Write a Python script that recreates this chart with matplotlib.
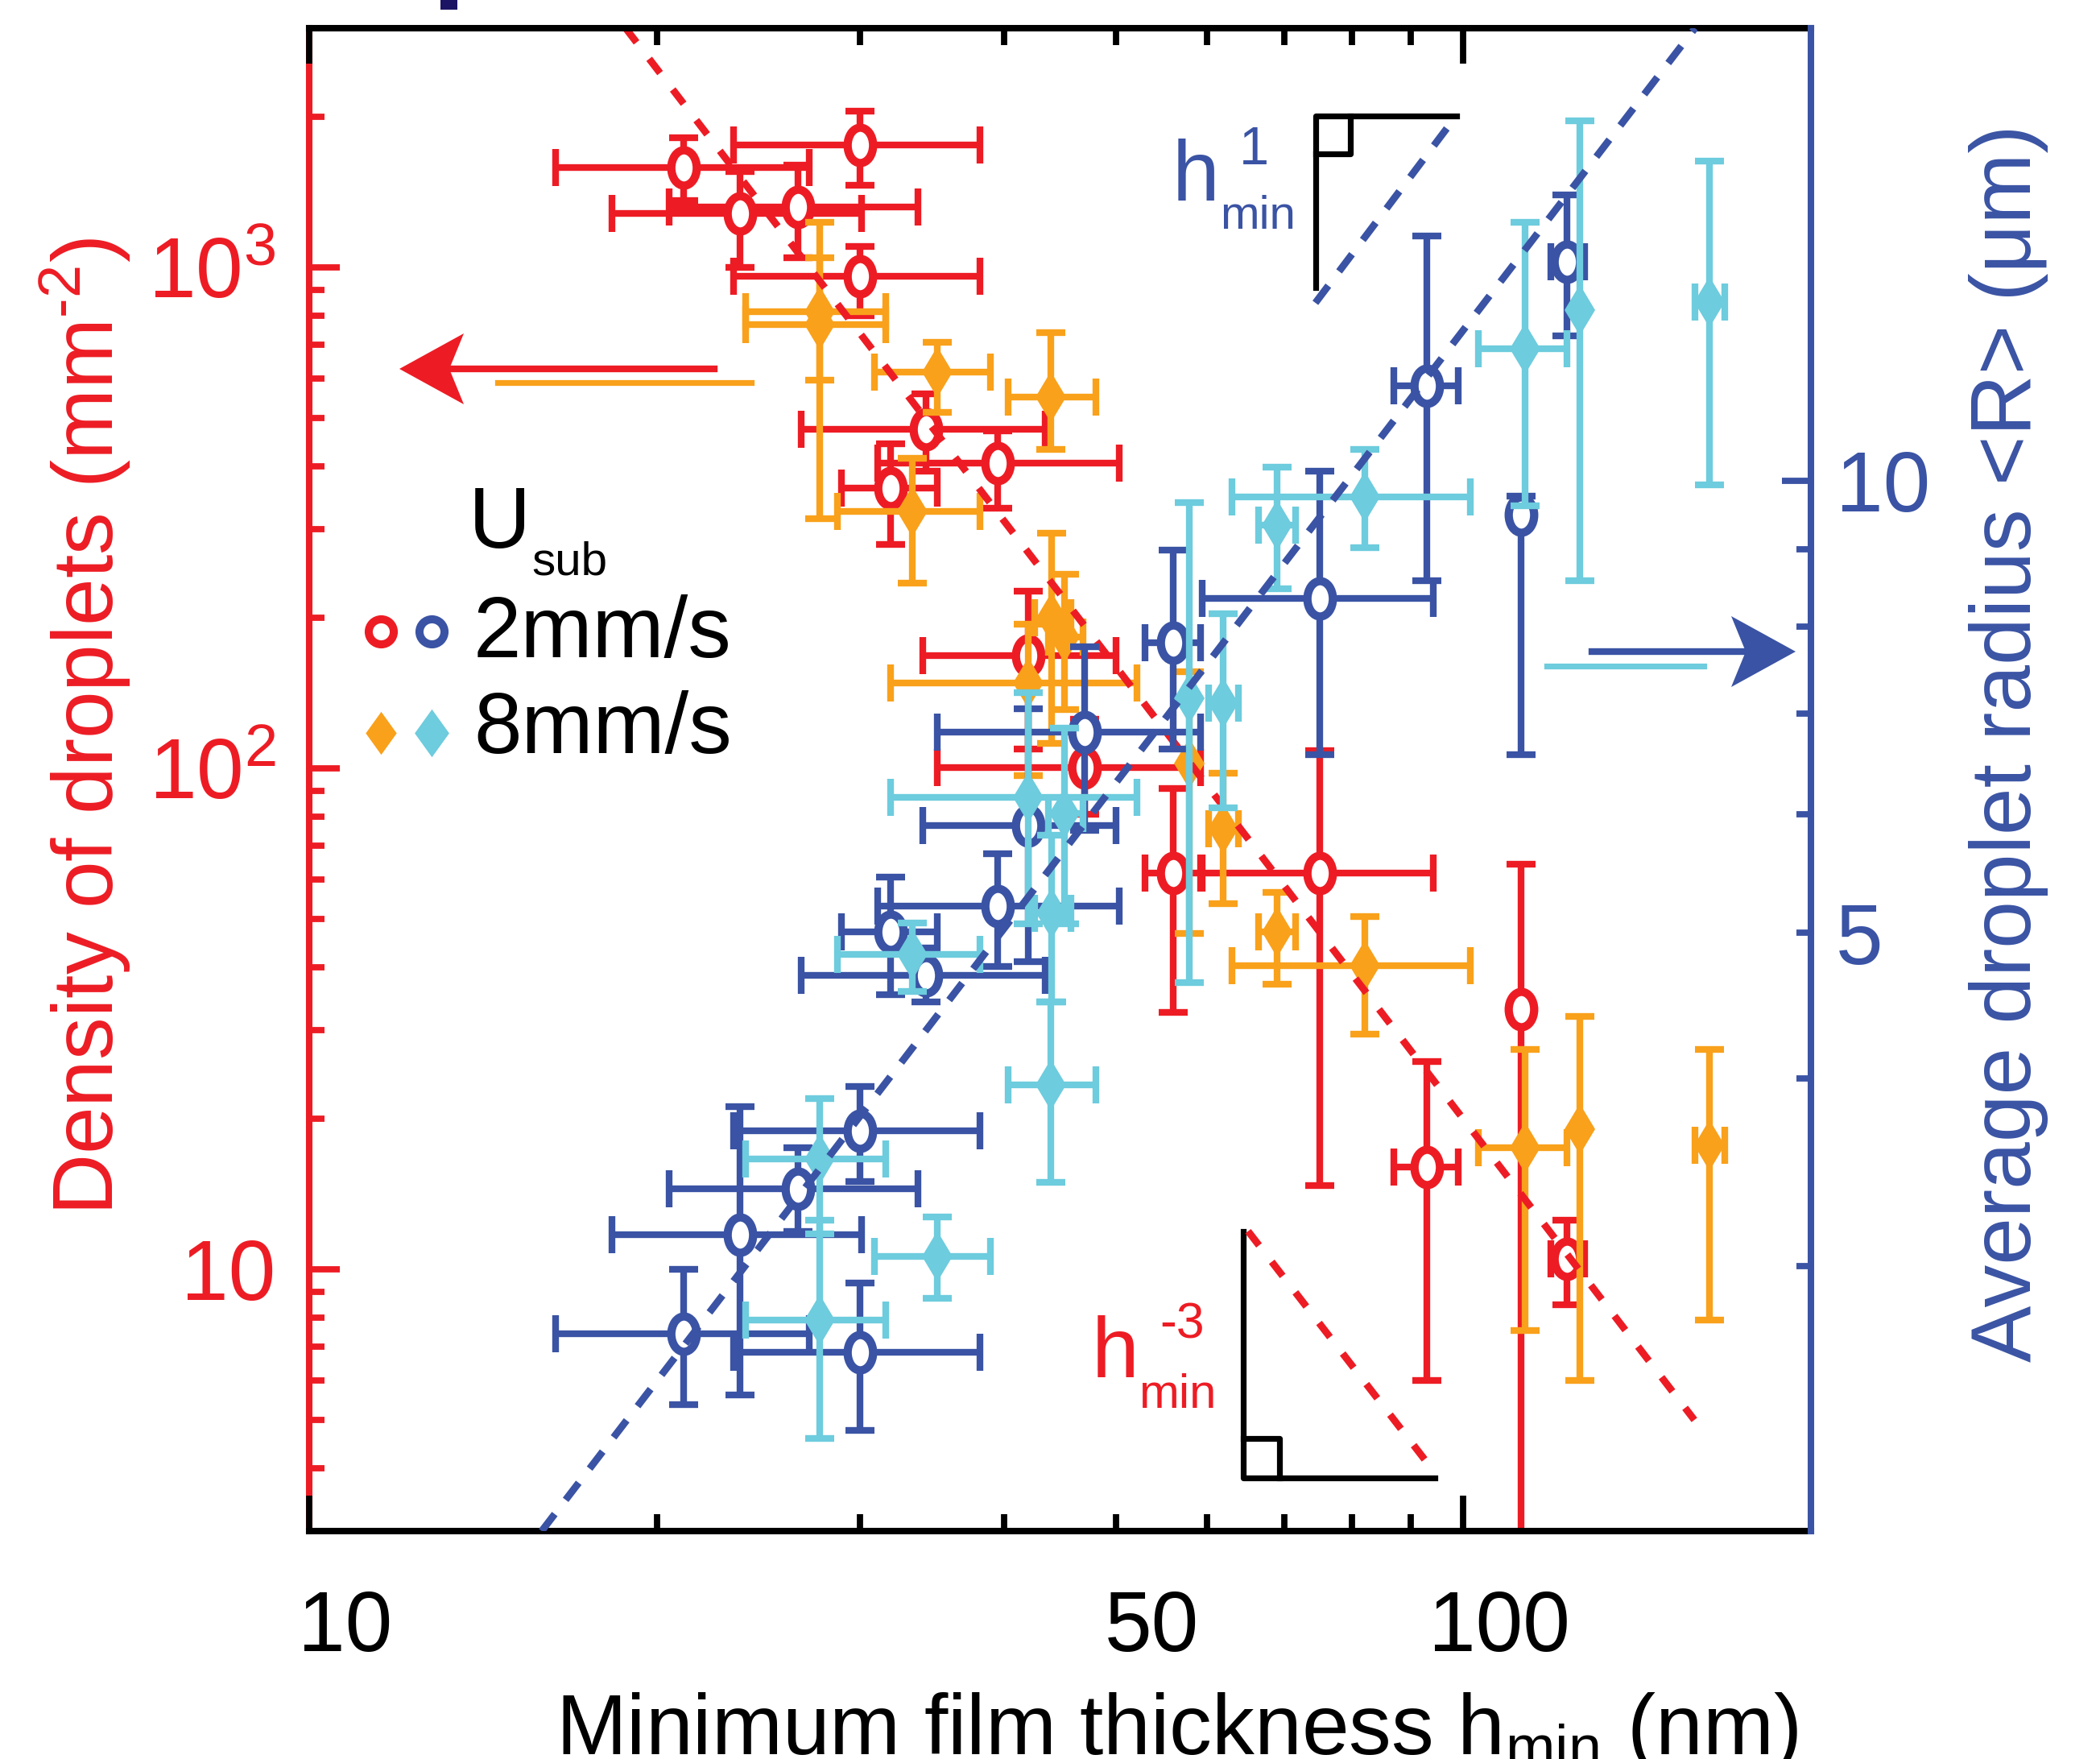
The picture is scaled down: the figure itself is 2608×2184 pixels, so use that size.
import numpy as np
import matplotlib.pyplot as plt
from matplotlib.path import Path
from matplotlib.transforms import Affine2D, ScaledTranslation
from matplotlib.ticker import FixedLocator, FixedFormatter, NullFormatter
from matplotlib.lines import Line2D
from matplotlib.patches import Polygon, Rectangle

plt.rcParams['font.family'] = ['Liberation Sans', 'DejaVu Sans']
plt.rcParams['mathtext.fontset'] = 'custom'
plt.rcParams['mathtext.rm'] = 'Liberation Sans'
plt.rcParams['mathtext.it'] = 'Liberation Sans:italic'
plt.rcParams['mathtext.default'] = 'regular'

RED = '#ED1C24'
ORANGE = '#F9A11B'
BLUE = '#3A53A4'
CYAN = '#6DCCDD'

# ---- U_sub = 2 mm/s (red: density, blue: radius), same h_min for both ----
h2 = [21.1, 30.0, 23.6, 26.5, 30.0, 34.2, 39.5, 31.9, 42.0, 47.0, 56.0, 75.1, 112.1, 93.0, 123.0]
h2_lo = [16.35, 23.3, 18.3, 20.5, 23.3, 26.7, 31.1, 28.9, 34.0, 35.0, 53.0, 59.4, 112.1, 87.0, 119.0]
h2_hi = [27.1, 38.1, 30.1, 33.7, 38.1, 43.4, 50.3, 35.0, 50.0, 59.2, 59.2, 94.2, 112.1, 99.0, 127.3]
dens2 = [1581, 1754, 1281, 1319, 960, 474, 406, 362, 168, 100.4, 61.8, 61.8, 33.0, 16.0, 10.5]
dens2_lo = [1359, 1458, 1000, 1045, 801, 391, 330, 280, 109, 81.0, 32.6, 14.7, 1.0, 6.0, 8.5]
dens2_hi = [1813, 2048, 1552, 1599, 1101, 558, 471, 444, 226, 125, 91.2, 108.5, 64.2, 26.0, 12.5]
rad2 = [2.705, 2.629, 3.150, 3.380, 3.694, 4.684, 5.208, 5.012, 5.896, 6.801, 7.798, 8.346, 9.495, 11.57, 13.98]
rad2_lo = [2.427, 2.333, 2.463, 3.166, 3.418, 4.497, 4.748, 4.548, 4.783, 5.853, 6.628, 6.570, 6.570, 8.574, 12.48]
rad2_hi = [2.987, 2.923, 3.831, 3.598, 3.953, 4.885, 5.648, 5.450, 7.048, 7.750, 8.985, 10.15, 9.77, 14.55, 15.50]

# ---- U_sub = 8 mm/s (orange: density, cyan: radius) ----
h8 = [27.7, 27.7, 35.0, 33.3, 43.9, 44.0, 45.1, 42.0, 57.9, 61.9, 69.0, 82.1, 113.0, 126.2, 163.3]
h8_lo = [23.9, 23.9, 30.9, 28.7, 40.3, 42.5, 43.7, 31.9, 57.9, 60.1, 66.5, 63.0, 103.1, 126.2, 158.6]
h8_hi = [31.6, 31.6, 38.9, 38.1, 48.0, 45.7, 46.8, 52.1, 57.9, 63.8, 71.5, 101.3, 123.0, 126.2, 168.4]
dens8 = [816, 769, 618, 325, 551, 200, 183, 148, 102, 75.8, 47.1, 40.3, 17.5, 19.0, 17.7]
dens8_lo = [594, 315, 514, 234, 432, 112, 131, 96.7, 46.7, 53.7, 37.1, 29.5, 7.55, 6.0, 7.9]
dens8_hi = [1230, 1045, 709, 415, 741, 294, 244, 194, 156, 97.8, 56.6, 50.5, 27.5, 32.0, 27.4]
rad8 = [3.538, 2.762, 3.048, 4.836, 3.963, 5.156, 6.006, 6.156, 7.164, 7.11, 9.346, 9.757, 12.24, 12.98, 13.14]
rad8_lo = [3.154, 2.305, 2.858, 4.570, 3.414, 4.497, 5.074, 5.074, 4.637, 6.059, 8.478, 9.018, 9.625, 8.574, 9.93]
rad8_hi = [3.880, 3.221, 3.237, 5.08, 4.497, 5.810, 6.844, 7.225, 9.674, 8.153, 10.21, 10.49, 14.86, 17.36, 16.32]

# guide lines (end points): density ~ h^-3, radius ~ h^1
red_fit_x = [18.8, 158.5]
red_fit_y = [3000, 5.0]
blue_fit_x = [15.9, 158.7]
blue_fit_y = [2.0, 20.0]

RED_DASH = (0, (2.5, 2.9))
BLUE_DASH = (0, (3.0, 2.5))
FIT_LW = 3.2

W, H = 2608, 2184
fig = plt.figure(figsize=(W / 200, H / 200), dpi=200)
fig.patch.set_facecolor('white')


def fx(X):
    return X / W


def fy(Y):
    return 1 - Y / H


ax = fig.add_axes([fx(384), fy(1901), fx(2249) - fx(384), fy(35) - fy(1901)])
ax2 = ax.twinx()
ax.set_xscale('log')
ax.set_yscale('log')
ax2.set_yscale('log')
ax.set_xlim(10, 200)
ax.set_ylim(3, 3000)
ax2.set_ylim(2, 20)

ellipse = Affine2D().scale(0.72, 1.0).transform_path(Path.unit_circle())


def errs(v, lo, hi):
    v, lo, hi = np.array(v, float), np.array(lo, float), np.array(hi, float)
    e = np.array([v - lo, hi - v])
    e[:, (hi - lo) == 0] = np.nan
    return e


def draw(axis, x, xlo, xhi, y, ylo, yhi, color, marker, ms, mew, mfc):
    axis.errorbar(x, y, xerr=errs(x, xlo, xhi), fmt='none', ecolor=color,
                  elinewidth=3.0, capsize=8.3, capthick=3.0)
    axis.errorbar(x, y, yerr=errs(y, ylo, yhi), fmt='none', ecolor=color,
                  elinewidth=3.0, capsize=6.5, capthick=3.0)
    axis.plot(x, y, ls='none', marker=marker, ms=ms, mec=color, mfc=mfc, mew=mew)


draw(ax, h2, h2_lo, h2_hi, dens2, dens2_lo, dens2_hi, RED, ellipse, 15.8, 3.7, 'white')
draw(ax, h8, h8_lo, h8_hi, dens8, dens8_lo, dens8_hi, ORANGE, 'd', 15.2, 0.6, ORANGE)
ax.plot(red_fit_x, red_fit_y, color=RED, lw=FIT_LW, ls=RED_DASH)

draw(ax2, h2, h2_lo, h2_hi, rad2, rad2_lo, rad2_hi, BLUE, ellipse, 15.8, 3.7, 'white')
draw(ax2, h8, h8_lo, h8_hi, rad8, rad8_lo, rad8_hi, CYAN, 'd', 15.2, 0.6, CYAN)
ax2.plot(blue_fit_x, blue_fit_y, color=BLUE, lw=FIT_LW, ls=BLUE_DASH)

# spines
for s in ['top', 'bottom']:
    ax.spines[s].set_linewidth(2.9)
    ax.spines[s].set_color('black')
ax.spines['left'].set_color(RED)
ax.spines['left'].set_linewidth(2.9)
ax.spines['right'].set_visible(False)
for s in ['top', 'bottom', 'left']:
    ax2.spines[s].set_visible(False)
ax2.spines['right'].set_color(BLUE)
ax2.spines['right'].set_linewidth(2.9)

# x ticks
ax.xaxis.set_major_locator(FixedLocator([10, 100]))
ax.xaxis.set_major_formatter(FixedFormatter(['10', '100']))
ax.xaxis.set_minor_locator(FixedLocator([20, 30, 40, 50, 60, 70, 80, 90]))
ax.xaxis.set_minor_formatter(FixedFormatter(['', '', '', '50', '', '', '', '']))
ax.tick_params(axis='x', which='both', direction='in', top=True, bottom=True,
               color='black', labelcolor='black', width=2.8, labelsize=38, pad=26)
ax.tick_params(axis='x', which='major', length=16)
ax.tick_params(axis='x', which='minor', length=7.5)
ax.xaxis.set_zorder(3)
shift = ScaledTranslation(16 / 72, 0, fig.dpi_scale_trans)
for lab in ax.get_xticklabels(which='both'):
    lab.set_transform(lab.get_transform() + shift)

# left y ticks
ax.yaxis.set_major_locator(FixedLocator([10, 100, 1000]))
ax.yaxis.set_major_formatter(FixedFormatter(['10', r'$10^2$', r'$10^3$']))
ax.yaxis.set_minor_locator(FixedLocator([4, 5, 6, 7, 8, 9, 20, 30, 40, 50, 60, 70, 80, 90,
                                         200, 300, 400, 500, 600, 700, 800, 900, 2000]))
ax.yaxis.set_minor_formatter(NullFormatter())
ax.tick_params(axis='y', which='both', direction='in', colors=RED, width=2.8,
               labelsize=38, pad=15)
ax.tick_params(axis='y', which='major', length=13.5)
ax.tick_params(axis='y', which='minor', length=7)

# right y ticks
ax2.yaxis.set_major_locator(FixedLocator([10]))
ax2.yaxis.set_major_formatter(FixedFormatter(['10']))
ax2.yaxis.set_minor_locator(FixedLocator([3, 4, 5, 6, 7, 8, 9]))
ax2.yaxis.set_minor_formatter(FixedFormatter(['', '', '5', '', '', '', '']))
ax2.tick_params(axis='y', which='both', direction='in', colors=BLUE, width=2.8,
                labelsize=38, pad=11)
ax2.tick_params(axis='y', which='major', length=13)
ax2.tick_params(axis='y', which='minor', length=6.5)

# axis labels
fig.text(fx(141), fy(902), 'Density of droplets (mm$^{\u20102}$)', color=RED, fontsize=38,
         rotation=90, rotation_mode='anchor', ha='center', va='baseline')
fig.text(fx(2522), fy(923), 'Average droplet radius <R> (\u03bcm)', color=BLUE, fontsize=38,
         rotation=90, rotation_mode='anchor', ha='center', va='baseline')
fig.text(fx(1461), fy(2178), r'Minimum film thickness h$_{min}$ (nm)', color='black',
         fontsize=38, ha='center', va='baseline')


def fline(pts, **kw):
    xs = [fx(p[0]) for p in pts]
    ys = [fy(p[1]) for p in pts]
    fig.add_artist(Line2D(xs, ys, transform=fig.transFigure, **kw))


# slope triangles
fline([(1633.6, 357), (1633.6, 143.5), (1808.8, 143.5)], color='black', lw=2.6)
fline([(1633.6, 191), (1677, 191), (1677, 143.5)], color='black', lw=2.6)
fline([(1633.6, 376), (1808.8, 143.5)], color=BLUE, lw=FIT_LW, ls=BLUE_DASH)
fig.text(fx(1456), fy(249), 'h', color=BLUE, fontsize=38, ha='left', va='baseline')
fig.text(fx(1539), fy(204), '1', color=BLUE, fontsize=24, ha='left', va='baseline')
fig.text(fx(1515), fy(284), 'min', color=BLUE, fontsize=21, ha='left', va='baseline')

fline([(1544.4, 1528.7), (1544.4, 1834.6), (1782, 1834.6)], color='black', lw=2.6)
fline([(1544.4, 1785.5), (1589, 1785.5), (1589, 1834.6)], color='black', lw=2.6)
fline([(1550, 1528.7), (1775, 1819.5)], color=RED, lw=FIT_LW, ls=RED_DASH)
fig.text(fx(1356), fy(1710), 'h', color=RED, fontsize=38, ha='left', va='baseline')
fig.text(fx(1440), fy(1661), '-3', color=RED, fontsize=22.5, ha='left', va='baseline')
fig.text(fx(1414), fy(1748), 'min', color=RED, fontsize=21.5, ha='left', va='baseline')

# arrows
fline([(560, 458), (887, 458)], color=RED, lw=3.0)
fig.add_artist(Polygon([(fx(496), fy(458)), (fx(576), fy(414)), (fx(558), fy(458)),
                        (fx(576), fy(502))], closed=True, transform=fig.transFigure,
                       facecolor=RED, edgecolor='none'))
fline([(618, 475), (933, 475)], color=ORANGE, lw=2.6)
fline([(1977, 809), (2168, 809)], color=BLUE, lw=3.0)
fig.add_artist(Polygon([(fx(2230), fy(809)), (fx(2150), fy(765)), (fx(2168), fy(809)),
                        (fx(2150), fy(853))], closed=True, transform=fig.transFigure,
                       facecolor=BLUE, edgecolor='none'))
fline([(1921, 827), (2116, 827)], color=CYAN, lw=2.6)

# legend
fig.text(fx(582), fy(680), 'U', color='black', fontsize=38.5, ha='left', va='baseline')
fig.text(fx(660), fy(714), 'sub', color='black', fontsize=21, ha='left', va='baseline')
fig.text(fx(588), fy(816), '2mm/s', color='black', fontsize=38.5, ha='left', va='baseline')
fig.text(fx(588), fy(935), '8mm/s', color='black', fontsize=38.5, ha='left', va='baseline')
leg_diamond = Path([(0, 1), (0.72, 0), (0, -1), (-0.72, 0), (0, 1)], closed=True)
fig.add_artist(Line2D([fx(473)], [fy(784)], transform=fig.transFigure, marker='o', ms=11.2,
                      mew=3.6, mec=RED, mfc='white', ls='none'))
fig.add_artist(Line2D([fx(536)], [fy(784)], transform=fig.transFigure, marker='o', ms=11.2,
                      mew=3.6, mec=BLUE, mfc='white', ls='none'))
fig.add_artist(Line2D([fx(473)], [fy(910)], transform=fig.transFigure, marker=leg_diamond,
                      ms=19.2, mew=0, mfc=ORANGE, ls='none'))
fig.add_artist(Line2D([fx(536)], [fy(910)], transform=fig.transFigure, marker=leg_diamond,
                      ms=21.4, mew=0, mfc=CYAN, ls='none'))

# small dark mark cut at the top edge
fig.add_artist(Rectangle((fx(547), fy(12)), 21 / W, 12 / H, transform=fig.transFigure,
                         facecolor='#1B1464', edgecolor='none'))

fig.savefig('out.png', dpi=200)
